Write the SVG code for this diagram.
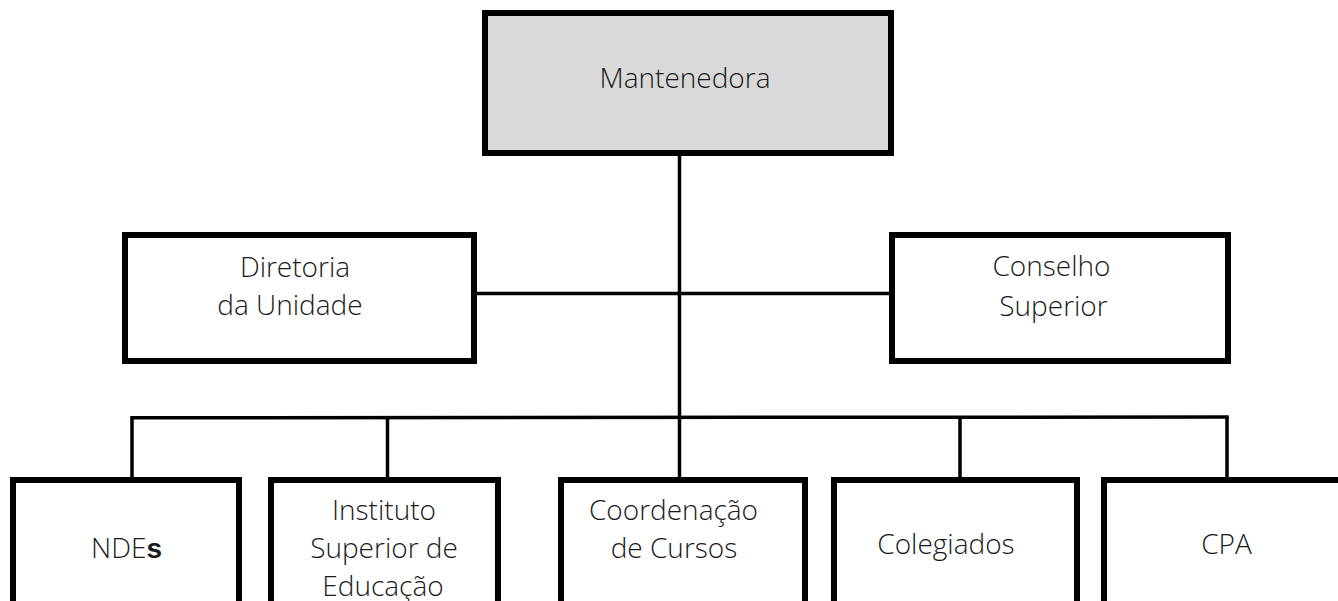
<svg xmlns="http://www.w3.org/2000/svg" width="1338" height="601" viewBox="0 0 1338 601">
<style>
.box{fill:#ffffff;stroke:#000000;stroke-width:6}
.top{fill:#d9d9d9}
.conn line{stroke:#000000;stroke-width:3.5}
text{font-family:"Open Sans","Noto Sans","Liberation Sans",sans-serif;font-weight:300;font-size:28px;fill:#1a1a1a;text-anchor:middle}
.b{font-family:"Liberation Sans",Arial,sans-serif;font-weight:bold}
</style>
<rect width="1338" height="601" fill="#ffffff"/>
<g id="connectors" class="conn">
<line x1="679.5" y1="156" x2="679.5" y2="477"/>
<line x1="477" y1="293.5" x2="889" y2="293.5"/>
<line x1="130.3" y1="417.8" x2="1228.7" y2="417"/>
<line x1="132" y1="417.5" x2="132" y2="477"/>
<line x1="387.5" y1="417.5" x2="387.5" y2="477"/>
<line x1="960" y1="417.5" x2="960" y2="477"/>
<line x1="1227" y1="417" x2="1227" y2="477"/>
</g>
<g id="mantenedora">
<rect class="box top" x="485" y="13" width="406" height="140"/>
<text x="685" y="88">Mantenedora</text>
</g>
<g id="diretoria">
<rect class="box" x="125" y="235" width="349" height="126"/>
<text x="295" y="277">Diretoria</text>
<text x="290" y="315">da Unidade</text>
</g>
<g id="conselho">
<rect class="box" x="892" y="235" width="336" height="126"/>
<text x="1051.5" y="276">Conselho</text>
<text x="1053.5" y="316">Superior</text>
</g>
<g id="ndes">
<rect class="box" x="13" y="480" width="226" height="200"/>
<text x="126.5" y="558">NDE<tspan class="b">s</tspan></text>
</g>
<g id="instituto">
<rect class="box" x="271" y="480" width="227" height="200"/>
<text x="384" y="520">Instituto</text>
<text x="384" y="558">Superior de</text>
<text x="383" y="596">Educação</text>
</g>
<g id="coordenacao">
<rect class="box" x="561" y="480" width="244" height="200"/>
<text x="673.5" y="520">Coordenação</text>
<text x="674" y="558">de Cursos</text>
</g>
<g id="colegiados">
<rect class="box" x="834" y="480" width="243" height="200"/>
<text x="946" y="554">Colegiados</text>
</g>
<g id="cpa">
<rect class="box" x="1104" y="480" width="300" height="200"/>
<text x="1226.5" y="554">CPA</text>
</g>
</svg>
